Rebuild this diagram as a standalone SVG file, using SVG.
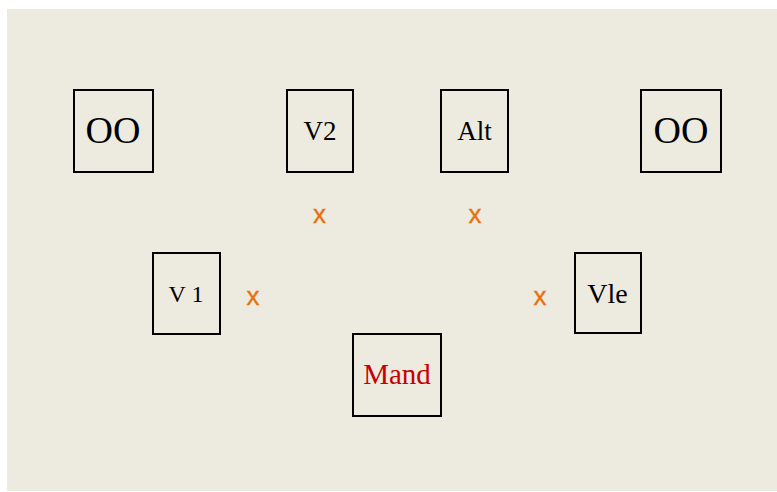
<svg xmlns="http://www.w3.org/2000/svg" width="777" height="492" viewBox="0 0 777 492">
<style>
.box{fill:none;stroke:#000;stroke-width:2}
.t{font-family:"Liberation Serif","Times New Roman",serif;fill:#000;text-anchor:middle}
.x{font-family:"Liberation Sans",Arial,sans-serif;fill:#E8700C;stroke:#E8700C;stroke-width:0.35;font-size:26px;text-anchor:middle}
</style>
<rect x="7" y="9" width="770" height="482" fill="#EDEAE0"/>
<g id="oo-left"><rect class="box" x="74" y="90" width="79" height="82"/><text class="t" x="113" y="143" font-size="38">OO</text></g>
<g id="v2"><rect class="box" x="287" y="90" width="66" height="82"/><text class="t" x="320" y="140" font-size="27">V2</text></g>
<g id="alt"><rect class="box" x="441" y="90" width="67" height="82"/><text class="t" x="474.5" y="140" font-size="27">Alt</text></g>
<g id="oo-right"><rect class="box" x="641" y="90" width="80" height="82"/><text class="t" x="681" y="143" font-size="38">OO</text></g>
<g id="v1"><rect class="box" x="153" y="253" width="67" height="81"/><text class="t" x="186" y="302" font-size="24">V 1</text></g>
<g id="vle"><rect class="box" x="575" y="253" width="66" height="80"/><text class="t" x="607.5" y="303" font-size="28">Vle</text></g>
<g id="mand"><rect class="box" x="353" y="334" width="88" height="82"/><text class="t" x="397" y="384" font-size="29" style="fill:#C80000">Mand</text></g>
<g id="connectors">
<text class="x" x="319.5" y="222.5">x</text>
<text class="x" x="475" y="222.5">x</text>
<text class="x" x="253" y="305">x</text>
<text class="x" x="540" y="305">x</text>
</g>
</svg>
